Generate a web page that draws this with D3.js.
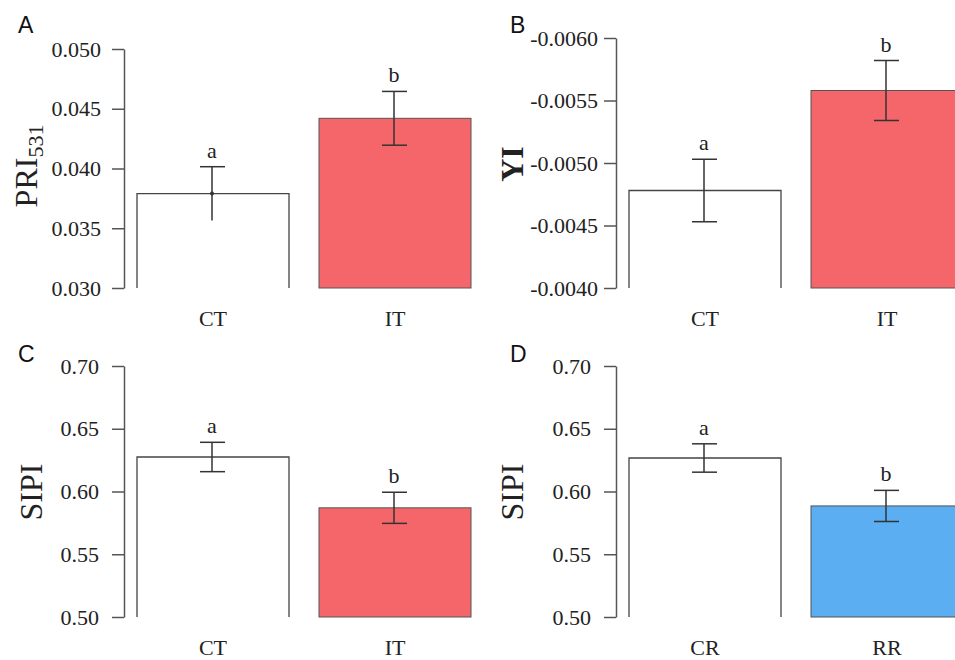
<!DOCTYPE html>
<html lang="en">
  <head>
    <meta charset="UTF-8" />
    <title>Spectral indices</title>
    <style>
      body { margin: 0; background: #fff; }
      svg { display: block; }
      .domain, .tick line { stroke: #555; stroke-width: 1.5px; }
      .letter { font-family: "Liberation Serif", serif; font-size: 22px; fill: #222; }
      .ytitle { font-family: "Liberation Serif", serif; font-size: 32px; fill: #222; }
      .plabel { font-family: "Liberation Sans", Arial, sans-serif; font-size: 23px; fill: #111; }
    </style>
  </head>
  <body>
    <svg id="chart" width="955" height="660"></svg>
  </body>
  <script src="https://cdn.jsdelivr.net/npm/d3@7"></script>
  <script>
    // data
    const panelLabels = ["A", "B", "C", "D"];
    const categoriesA = ["CT", "IT"];
    const categoriesB = ["CT", "IT"];
    const categoriesC = ["CT", "IT"];
    const categoriesD = ["CR", "RR"];

    const meansA = [0.0379, 0.0442];
    const meansB = [-0.00478, -0.00558];
    const meansC = [0.6275, 0.587];
    const meansD = [0.6267, 0.5885];

    const errA = [0.00225, 0.00225];
    const errB = [0.00025, 0.00024];
    const errC = [0.0117, 0.0124];
    const errD = [0.0113, 0.0124];

    const lettersA = ["a", "b"];
    const lettersB = ["a", "b"];
    const lettersC = ["a", "b"];
    const lettersD = ["a", "b"];

    const ticksA = [0.030, 0.035, 0.040, 0.045, 0.050];
    const tickLabelsA = ["0.030", "0.035", "0.040", "0.045", "0.050"];
    const ticksB = [-0.0040, -0.0045, -0.0050, -0.0055, -0.0060];
    const tickLabelsB = ["-0.0040", "-0.0045", "-0.0050", "-0.0055", "-0.0060"];
    const ticksC = [0.50, 0.55, 0.60, 0.65, 0.70];
    const tickLabelsC = ["0.50", "0.55", "0.60", "0.65", "0.70"];
    const ticksD = [0.50, 0.55, 0.60, 0.65, 0.70];
    const tickLabelsD = ["0.50", "0.55", "0.60", "0.65", "0.70"];

    const redFill = "#f5666b";
    const blueFill = "#5baef1";
    const serif = '"Liberation Serif", "Times New Roman", serif';

    const svg = d3.select("#chart");

    const panels = [
      { label: panelLabels[0], cats: categoriesA, means: meansA, err: errA, letters: lettersA,
        ticks: ticksA, tickLabels: tickLabelsA, axisX: 124, top: 49, bottom: 288,
        pad: 11, fill: redFill, title: ["PRI", "531"], titleX: 37, titleY: 166, bold: false, noLowCap: [true, false] },
      { label: panelLabels[1], cats: categoriesB, means: meansB, err: errB, letters: lettersB,
        ticks: ticksB, tickLabels: tickLabelsB, axisX: 616, top: 38, bottom: 288,
        pad: 6, fill: redFill, title: ["YI"], titleX: 523, titleY: 164, bold: true, noLowCap: [false, false] },
      { label: panelLabels[2], cats: categoriesC, means: meansC, err: errC, letters: lettersC,
        ticks: ticksC, tickLabels: tickLabelsC, axisX: 124, top: 366, bottom: 617,
        pad: 13, fill: redFill, title: ["SIPI"], titleX: 42, titleY: 492, bold: false, noLowCap: [false, false] },
      { label: panelLabels[3], cats: categoriesD, means: meansD, err: errD, letters: lettersD,
        ticks: ticksD, tickLabels: tickLabelsD, axisX: 616, top: 366, bottom: 617,
        pad: 13, fill: blueFill, title: ["SIPI"], titleX: 523, titleY: 492, bold: false, noLowCap: [false, false] }
    ];

    panels.forEach((p) => {
      const g = svg.append("g");
      // first tick sits at the bottom (B runs reversed: more negative upward)
      const y = d3.scaleLinear()
        .domain([p.ticks[0], p.ticks[p.ticks.length - 1]])
        .range([p.bottom, p.top]);
      const x = d3.scaleBand().domain(p.cats).range([p.axisX - 2, p.axisX + 362])
        .paddingInner(30 / 182).paddingOuter(15 / 182);

      // y axis
      g.append("g")
        .attr("transform", `translate(${p.axisX},0)`)
        .call(d3.axisLeft(y).tickValues(p.ticks).tickSize(12).tickSizeOuter(0).tickPadding(p.pad)
          .tickFormat((d, i) => p.tickLabels[i]))
        .call((a) => a.selectAll(".tick text")
          .style("font-family", serif).style("font-size", "22px").attr("fill", "#222"));

      // x axis labels only
      g.append("g")
        .attr("transform", `translate(0,${p.bottom})`)
        .call(d3.axisBottom(x).tickSize(0).tickPadding(38))
        .call((a) => a.select(".domain").remove())
        .call((a) => a.selectAll(".tick text")
          .style("font-family", serif).style("font-size", "22px").attr("fill", "#222").attr("dy", "0"));

      const base = y(p.ticks[0]);

      p.cats.forEach((c, i) => {
        const x0 = x(c), w = x.bandwidth();
        const yt = y(p.means[i]);
        if (i === 0) {
          g.append("path")
            .attr("d", `M${x0},${base}V${yt}H${x0 + w}V${base}`)
            .attr("fill", "#fff").attr("stroke", "#444").attr("stroke-width", 1.3);
        } else {
          g.append("rect")
            .attr("x", x0).attr("y", yt).attr("width", w).attr("height", base - yt)
            .attr("fill", p.fill).attr("stroke", "#555").attr("stroke-width", 1);
        }
        // error bar
        const cx = x0 + w / 2 - 1;
        const sign = p.means[i] < 0 ? -1 : 1;
        const hi = y(p.means[i] + sign * p.err[i]);
        const lo = y(p.means[i] - sign * p.err[i]);
        const eg = g.append("g").attr("stroke", "#333").attr("stroke-width", 1.5);
        eg.append("line").attr("x1", cx).attr("x2", cx).attr("y1", hi).attr("y2", lo);
        eg.append("line").attr("x1", cx - 12).attr("x2", cx + 13).attr("y1", hi).attr("y2", hi);
        if (!p.noLowCap[i]) {
          eg.append("line").attr("x1", cx - 12).attr("x2", cx + 13).attr("y1", lo).attr("y2", lo);
        } else {
          g.append("circle").attr("cx", cx).attr("cy", yt).attr("r", 2).attr("fill", "#333");
        }
        g.append("text").attr("class", "letter")
          .attr("x", cx).attr("y", hi - 9).attr("text-anchor", "middle")
          .text(p.letters[i]);
      });

      // y title
      const t = g.append("text").attr("class", "ytitle")
        .attr("transform", `translate(${p.titleX},${p.titleY}) rotate(-90)`)
        .attr("text-anchor", "middle")
        .style("font-weight", p.bold ? "bold" : "normal");
      t.append("tspan").text(p.title[0]);
      if (p.title[1]) {
        t.append("tspan").attr("dy", 6).style("font-size", "22px").text(p.title[1]);
      }

      // panel letter
      g.append("text").attr("class", "plabel")
        .attr("x", p.axisX - 106).attr("y", p.top < 100 ? 33 : 362)
        .text(p.label);
    });
  </script>
</html>
